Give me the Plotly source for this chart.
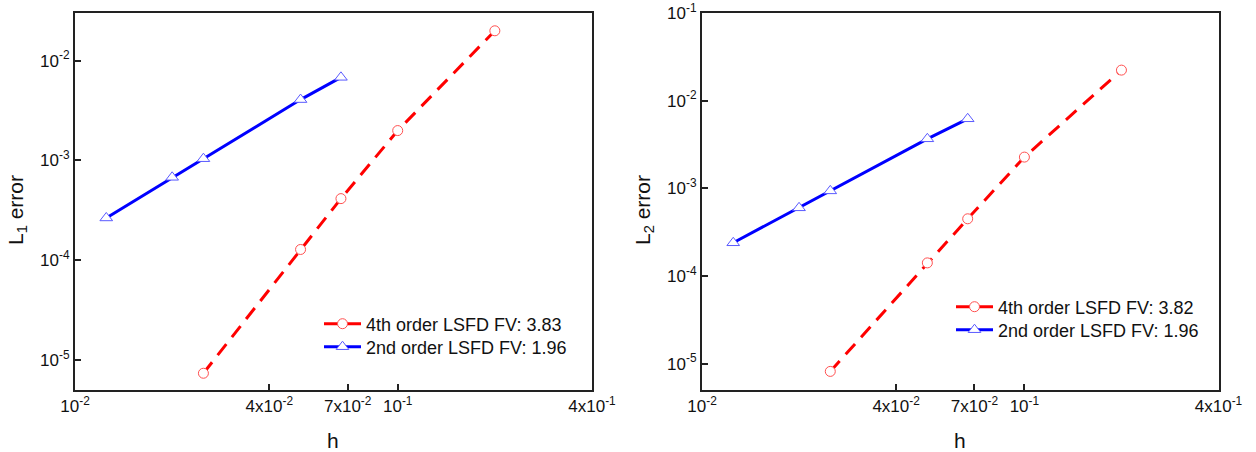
import math
import plotly.graph_objects as go

# ---- data ----
h_blue = [0.0125, 0.02, 0.025, 0.05, 0.0667]
h_red = [0.025, 0.05, 0.0667, 0.1, 0.2]

L1_4th = [7.36e-6, 1.28e-4, 4.14e-4, 1.99e-3, 1.99e-2]
L1_2nd = [2.65e-4, 6.77e-4, 1.04e-3, 4.07e-3, 6.8e-3]

L2_4th = [8.15e-6, 1.41e-4, 4.49e-4, 2.27e-3, 2.23e-2]
L2_2nd = [2.39e-4, 5.99e-4, 9.35e-4, 3.67e-3, 6.21e-3]

names_L1 = ["4th order LSFD FV: 3.83", "2nd order LSFD FV: 1.96"]
names_L2 = ["4th order LSFD FV: 3.82", "2nd order LSFD FV: 1.96"]

xtickvals = [0.01, 0.04, 0.07, 0.1, 0.4]
xticktext = ["10<sup>-2</sup>", "4x10<sup>-2</sup>", "7x10<sup>-2</sup>", "10<sup>-1</sup>", "4x10<sup>-1</sup>"]
ytickvals1 = [1e-5, 1e-4, 1e-3, 1e-2]
yticktext1 = ["10<sup>-5</sup>", "10<sup>-4</sup>", "10<sup>-3</sup>", "10<sup>-2</sup>"]
ytickvals2 = [1e-5, 1e-4, 1e-3, 1e-2, 1e-1]
yticktext2 = ["10<sup>-5</sup>", "10<sup>-4</sup>", "10<sup>-3</sup>", "10<sup>-2</sup>", "10<sup>-1</sup>"]

FONT = "Arial, Liberation Sans, sans-serif"
RED = "#ff0000"
BLUE = "#0000ff"

fig = go.Figure()

def add_series(x, y, name, xa, ya, legend, red):
    if red:
        line = dict(color=RED, width=3, dash="14px,9px")
        marker = dict(symbol="circle", size=10, color="white",
                      line=dict(color="#ff5050", width=1))
    else:
        line = dict(color=BLUE, width=3)
        marker = dict(symbol="triangle-up", size=11, color="white",
                      line=dict(color="#5a5aff", width=1))
    fig.add_trace(go.Scatter(x=x, y=y, name=name, mode="lines+markers",
                             line=line, marker=marker, xaxis=xa, yaxis=ya,
                             legend=legend, showlegend=True))

add_series(h_red, L1_4th, names_L1[0], "x", "y", "legend", True)
add_series(h_blue, L1_2nd, names_L1[1], "x", "y", "legend2", False)
add_series(h_red, L2_4th, names_L2[0], "x2", "y2", "legend3", True)
add_series(h_blue, L2_2nd, names_L2[1], "x2", "y2", "legend4", False)

W, H = 1256, 452
ydom = [1 - 390 / H, 1 - 13 / H]

axis_common = dict(type="log", showline=True, linecolor="#222", linewidth=2,
                   mirror=True, ticks="inside", ticklen=6, tickwidth=1.5,
                   tickcolor="#222", showgrid=False, zeroline=False,
                   automargin=False,
                   tickfont=dict(family=FONT, size=17, color="#111"))

xr = [math.log10(0.01), math.log10(0.4)]

def leg(x, y):
    return dict(x=x / W, y=1 - y / H, xanchor="left", yanchor="middle",
                bgcolor="rgba(0,0,0,0)", font=dict(family=FONT, size=18, color="#111"),
                itemwidth=37, tracegroupgap=0, visible=True)

fig.update_layout(
    width=W, height=H,
    showlegend=True,
    margin=dict(l=0, r=0, t=0, b=0),
    paper_bgcolor="white", plot_bgcolor="white",
    font=dict(family=FONT, color="#111"),
    xaxis=dict(**axis_common, domain=[75 / W, 592 / W], range=xr,
               tickvals=xtickvals, ticktext=xticktext, anchor="y"),
    yaxis=dict(**axis_common, domain=ydom,
               range=[math.log10(5e-6), math.log10(3e-2)],
               tickvals=ytickvals1, ticktext=yticktext1, anchor="x"),
    xaxis2=dict(**axis_common, domain=[702 / W, 1218.5 / W], range=xr,
                tickvals=xtickvals, ticktext=xticktext, anchor="y2"),
    yaxis2=dict(**axis_common, domain=ydom,
                range=[math.log10(5e-6), math.log10(1e-1)],
                tickvals=ytickvals2, ticktext=yticktext2, anchor="x2"),
    legend=leg(319, 324),
    legend2=leg(319, 347),
    legend3=leg(951, 307),
    legend4=leg(951, 330),
)

title_font = dict(family=FONT, size=21, color="#111")
for txt, x, y, ang in [("h", 333, 440, 0), ("h", 960, 440, 0),
                       ("L<sub>1</sub> error", 17, 210, -90),
                       ("L<sub>2</sub> error", 644, 210, -90)]:
    fig.add_annotation(text=txt, x=x / W, y=1 - y / H, xref="paper", yref="paper",
                       xanchor="center", yanchor="middle", showarrow=False,
                       textangle=ang, font=title_font)

fig.write_html("out.html")
